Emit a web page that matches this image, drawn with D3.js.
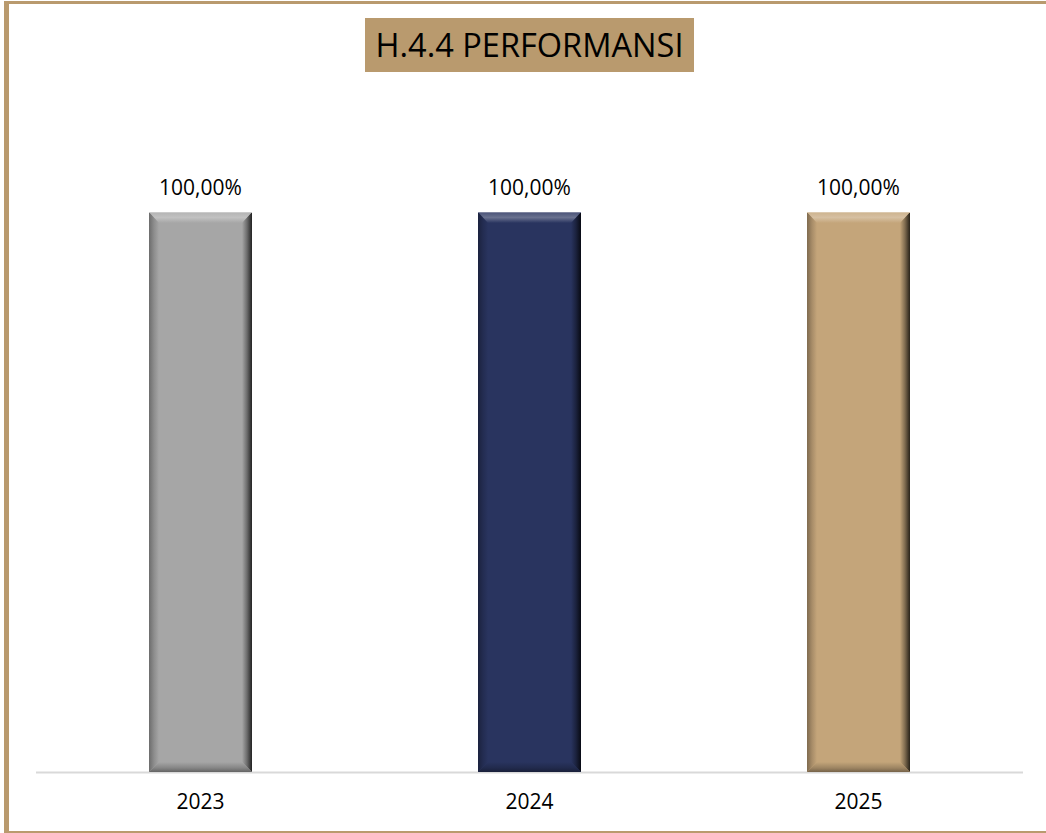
<!DOCTYPE html>
<html>
<head>
<meta charset="utf-8">
<script src="https://cdn.jsdelivr.net/npm/d3@7"></script>
<style>
  body { margin: 0; background: #fff; }
  svg { display: block; font-family: "Open Sans", sans-serif; }
</style>
</head>
<body>
<svg></svg>
<script>
const title = "H.4.4 PERFORMANSI"
const years = ["2023", "2024", "2025"]
const values = [1.0, 1.0, 1.0]
const barColors = ["#a6a6a6", "#29345f", "#c4a57a"]

const width = 1046
const height = 833
const frameColor = "#b99a6e"
const bevel = 10

const svg = d3.select("svg")
  .attr("width", width)
  .attr("height", height)

// frame (right edge is cut off in the original)
svg.append("line").attr("x1", 4).attr("x2", width).attr("y1", 2.5).attr("y2", 2.5)
  .attr("stroke", frameColor).attr("stroke-width", 3)
svg.append("line").attr("x1", 6.5).attr("x2", 6.5).attr("y1", 1).attr("y2", height)
  .attr("stroke", frameColor).attr("stroke-width", 5)
svg.append("line").attr("x1", 4).attr("x2", width).attr("y1", 832).attr("y2", 832)
  .attr("stroke", frameColor).attr("stroke-width", 2)

// title box
const tg = svg.append("g")
tg.append("rect").attr("x", 365).attr("y", 18).attr("width", 329).attr("height", 54)
  .attr("fill", frameColor)
tg.append("text").attr("x", 529.5).attr("y", 57)
  .attr("text-anchor", "middle")
  .attr("font-size", 32)
  .attr("textLength", 308)
  .attr("lengthAdjust", "spacingAndGlyphs")
  .attr("fill", "#000")
  .text(title)

const x = d3.scaleBand()
  .domain(years)
  .range([36, 1023])
  .paddingInner(0.687)
  .paddingOuter(0.3435)

const y = d3.scaleLinear()
  .domain([0, 1.2])
  .range([772, 100])

const data = years.map((yr, i) => ({ year: yr, value: values[i], color: barColors[i], i: i }))

// gradients for bevel sides
const defs = svg.append("defs")
data.forEach(d => {
  const c = d3.color(d.color)
  const light = t => d3.interpolateRgb(d.color, "#ffffff")(t)
  const dark = t => d3.interpolateRgb(d.color, "#000000")(t)
  const mk = (id, x1, y1, x2, y2, stops) => {
    const g = defs.append("linearGradient").attr("id", id)
      .attr("x1", x1).attr("y1", y1).attr("x2", x2).attr("y2", y2)
    stops.forEach(s => g.append("stop").attr("offset", s[0]).attr("stop-color", s[1]))
  }
  mk("gl" + d.i, "0", "0", "1", "0", [[0, dark(0.35)], [0.5, dark(0.15)], [1, c]])
  mk("gr" + d.i, "0", "0", "1", "0", [[0, c], [0.5, dark(0.35)], [1, dark(0.8)]])
  mk("gt" + d.i, "0", "0", "0", "1", [[0, light(0.15)], [0.5, light(0.3)], [1, c]])
  mk("gb" + d.i, "0", "0", "0", "1", [[0, c], [0.6, dark(0.2)], [1, dark(0.4)]])
})

// baseline
svg.append("line")
  .attr("x1", x.range()[0]).attr("x2", x.range()[1])
  .attr("y1", y(0) + 0.5).attr("y2", y(0) + 0.5)
  .attr("stroke", "#d9d9d9").attr("stroke-width", 2)

const bars = svg.append("g").selectAll("g.bar")
  .data(data)
  .enter().append("g").attr("class", "bar")

bars.each(function(d) {
  const g = d3.select(this)
  const x0 = x(d.year), x1 = x(d.year) + x.bandwidth()
  const y0 = y(d.value), y1 = y(0)
  g.append("rect").attr("x", x0).attr("y", y0).attr("width", x1 - x0).attr("height", y1 - y0)
    .attr("fill", d.color)
  const poly = (pts, fill) => g.append("polygon").attr("points", pts.map(p => p.join(",")).join(" ")).attr("fill", fill)
  poly([[x0, y0], [x0 + bevel, y0 + bevel], [x0 + bevel, y1 - bevel], [x0, y1]], `url(#gl${d.i})`)
  poly([[x1, y0], [x1 - bevel, y0 + bevel], [x1 - bevel, y1 - bevel], [x1, y1]], `url(#gr${d.i})`)
  poly([[x0, y0], [x1, y0], [x1 - bevel, y0 + bevel + 1], [x0 + bevel, y0 + bevel + 1]], `url(#gt${d.i})`)
  poly([[x0, y1], [x1, y1], [x1 - bevel, y1 - bevel], [x0 + bevel, y1 - bevel]], `url(#gb${d.i})`)
  g.append("line").attr("x1", x0).attr("x2", x1).attr("y1", y0 + 0.5).attr("y2", y0 + 0.5)
    .attr("stroke", d3.interpolateRgb(d.color, "#ffffff")(0.4)).attr("stroke-width", 1)
})

// value labels
svg.append("g").selectAll("text")
  .data(data)
  .enter().append("text")
    .attr("x", d => x(d.year) + x.bandwidth() / 2)
    .attr("y", d => y(d.value) - 17)
    .attr("text-anchor", "middle")
    .attr("font-size", 21)
    .attr("fill", "#000")
    .text(d => d3.format(".2f")(d.value * 100).replace(".", ",") + "%")

// category axis
const axis = svg.append("g")
  .attr("transform", `translate(0,${y(0)})`)
  .call(d3.axisBottom(x).tickSize(0).tickPadding(22))
axis.select(".domain").remove()
axis.selectAll("text")
  .attr("font-family", "Open Sans, sans-serif")
  .attr("font-size", 21)
  .attr("fill", "#000")
</script>
</body>
</html>
